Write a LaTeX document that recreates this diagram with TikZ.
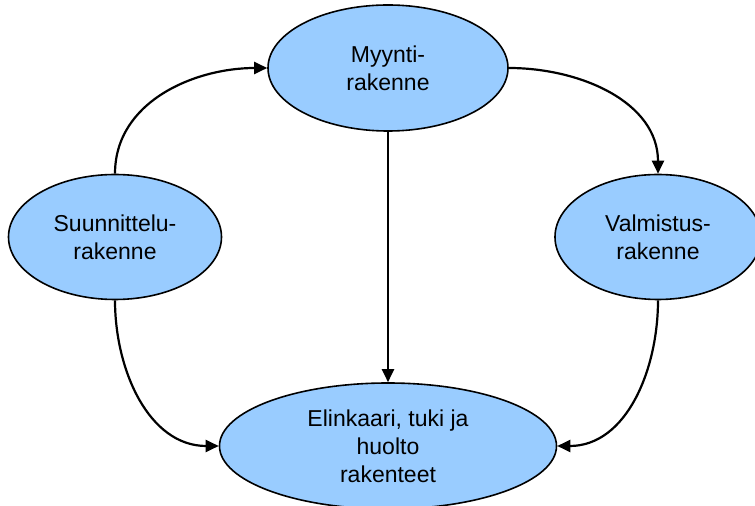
\documentclass[tikz,border=0pt]{standalone}
\usepackage{fontspec}
\setmainfont{Liberation Sans}
\usetikzlibrary{shapes.geometric,arrows.meta}
\definecolor{boxblue}{HTML}{99CCFF}
\begin{document}
\begin{tikzpicture}[x=1pt,y=1pt,
  blob/.style={ellipse,draw=black,line width=1.6pt,fill=boxblue,inner sep=0pt,
    align=center,font=\fontsize{23}{28}\selectfont},
  link/.style={line width=2.2pt,-{Triangle[length=13pt,width=12pt]}}]
\useasboundingbox (0,0) rectangle (755,506);
\clip (0,0) rectangle (755,506);
% the four structures
\node[blob,minimum width=240pt,minimum height=126pt] (sales) at (388,438) {Myynti-\\rakenne};
\node[blob,minimum width=213pt,minimum height=125pt] (design) at (115,269) {Suunnittelu-\\rakenne};
\node[blob,minimum width=206pt,minimum height=125pt] (mfg) at (658,269) {Valmistus-\\rakenne};
\node[blob,minimum width=337pt,minimum height=126pt] (life) at (388,60) {Elinkaari, tuki ja\\huolto\\rakenteet};
% connectors
\draw[link] (design.north) to[out=90,in=180] (sales.west);
\draw[link] (sales.east) to[out=0,in=90] (mfg.north);
\draw[link] (sales.south) -- (life.north);
\draw[link] (design.south) to[out=-90,in=180] (life.west);
\draw[link] (mfg.south) to[out=-90,in=0] (life.east);
\end{tikzpicture}
\end{document}
